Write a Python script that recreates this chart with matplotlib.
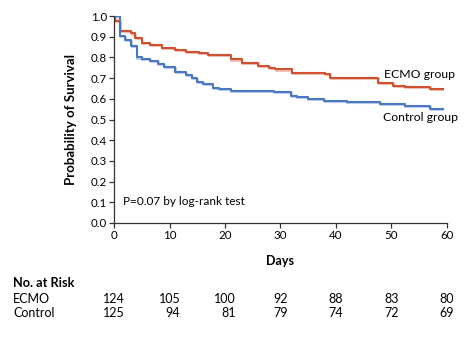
import matplotlib
matplotlib.use('Agg')
import matplotlib.pyplot as plt
import matplotlib.patheffects as pe
from matplotlib.transforms import blended_transform_factory

plt.rcParams['font.family'] = ['Lato', 'DejaVu Sans']

# Kaplan-Meier steps
ecmo_days = [0, 0.2, 1.1, 3.1, 3.8, 5.0, 6.5, 8.6, 11.0, 13.0, 15.3, 17.0, 21.0, 23.0,
             26.0, 28.0, 29.0, 32.0, 38.0, 39.0, 47.6, 50.3, 52.4, 57.0, 59.2]
ecmo_surv = [1.0, 0.977, 0.928, 0.916, 0.892, 0.871, 0.860, 0.847, 0.836, 0.828, 0.820,
             0.810, 0.790, 0.774, 0.760, 0.747, 0.742, 0.726, 0.718, 0.700, 0.675, 0.662,
             0.656, 0.646, 0.646]
ctrl_days = [0, 1.0, 2.0, 3.1, 4.1, 5.0, 6.5, 8.0, 9.0, 11.0, 13.0, 14.0, 15.0, 16.1,
             17.8, 19.0, 21.0, 28.9, 31.9, 32.9, 34.9, 37.9, 41.9, 48.0, 52.4, 57.0, 59.2]
ctrl_surv = [1.0, 0.903, 0.884, 0.857, 0.800, 0.792, 0.784, 0.768, 0.752, 0.728, 0.715,
             0.699, 0.683, 0.670, 0.654, 0.647, 0.639, 0.631, 0.613, 0.607, 0.599, 0.591,
             0.583, 0.574, 0.564, 0.553, 0.553]

risk_days = [0, 10, 20, 30, 40, 50, 60]
risk_ecmo = [124, 105, 100, 92, 88, 83, 80]
risk_ctrl = [125, 94, 81, 79, 74, 72, 69]

red = '#d0512f'
blue = '#4a78c4'

fig = plt.figure(figsize=(4.68, 3.37), dpi=100)
ax = fig.add_axes([0.2436, 0.3383, 0.7115, 0.6142])

shadow = lambda c: [pe.SimpleLineShadow(offset=(0.4, -0.8), shadow_color=c, alpha=0.35), pe.Normal()]
ax.step(ecmo_days, ecmo_surv, where='post', color=red, lw=1.5, path_effects=shadow(red))
ax.step(ctrl_days, ctrl_surv, where='post', color=blue, lw=1.5, path_effects=shadow(blue))

ax.set_xlim(0, 60)
ax.set_ylim(0, 1.0)
ax.set_xticks(range(0, 61, 10))
ax.set_yticks([i / 10 for i in range(11)])
ax.set_yticklabels(['%.1f' % (i / 10) for i in range(11)])
ax.spines['top'].set_visible(False)
ax.spines['right'].set_visible(False)
for s in ['left', 'bottom']:
    ax.spines[s].set_color('#333333')
    ax.spines[s].set_linewidth(0.9)
ax.tick_params(direction='out', length=3.5, width=0.9, color='#333333', labelsize=8.3, pad=1.5)

ax.set_xlabel('Days', fontsize=9, fontweight='bold', labelpad=10)
ax.set_ylabel('Probability of Survival', fontsize=9.5, fontweight='bold', labelpad=10)

ax.text(48.7, 0.715, 'ECMO group', fontsize=8.8, va='center', clip_on=False)
ax.text(48.5, 0.51, 'Control group', fontsize=8.8, va='center', clip_on=False)
ax.text(1.6, 0.106, 'P=0.07 by log-rank test', fontsize=8.5, va='center')

# risk table under the axis
tr = blended_transform_factory(ax.transData, fig.transFigure)
fig.text(13 / 468, 1 - 283 / 337, 'No. at Risk', fontsize=9.2, fontweight='bold', va='center')
fig.text(13 / 468, 1 - 299 / 337, 'ECMO', fontsize=9, va='center')
fig.text(13 / 468, 1 - 313 / 337, 'Control', fontsize=9, va='center')
etexts = []
for d, n in zip(risk_days, risk_ecmo):
    etexts.append(ax.text(d, 1 - 299 / 337, str(n), transform=tr, fontsize=9,
                          ha='center', va='center', clip_on=False))
fig.canvas.draw()
r = fig.canvas.get_renderer()
for t, n in zip(etexts, risk_ctrl):
    xr = t.get_window_extent(r).x1
    fig.text(xr / fig.bbox.width, 1 - 313 / 337, str(n), fontsize=9, ha='right', va='center')

fig.savefig('out.png', dpi=100)
